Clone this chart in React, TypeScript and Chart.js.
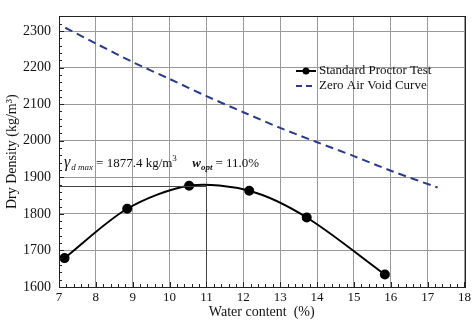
import React, { useEffect, useRef } from "react";
import { Chart, registerables } from "chart.js";

Chart.register(...registerables);

const proctorWater = [7.15, 8.85, 10.53, 12.16, 13.72, 15.84];
const proctorDensity = [1679, 1814, 1877, 1863, 1790, 1634];
const zavWater = [7.17, 8, 9, 10, 11, 12, 13, 14, 15, 16, 17.27];
const zavDensity = [2309, 2266, 2215, 2169, 2122, 2078, 2035, 1996, 1958, 1918, 1872];
const yTickValues = [1600, 1700, 1800, 1900, 2000, 2100, 2200, 2300];
const gammaMax = 1877.4;
const wOpt = 11.0;
const seriesNames = ["Standard Proctor Test", "Zero Air Void Curve"];

const SERIF = "'Liberation Serif', 'DejaVu Serif', serif";
const NAVY = "#2a3a8c";
const TEXT = "#111";

const overlayPlugin = {
  id: "overlay",
  afterDatasetsDraw(chart: any) {
    const { ctx, chartArea: a, scales } = chart;
    const xs = scales.x;
    const ys = scales.y;
    ctx.save();
    ctx.strokeStyle = "#444";
    ctx.lineWidth = 1;
    ctx.beginPath();
    const yg = Math.round(ys.getPixelForValue(gammaMax)) + 0.5;
    const xw = Math.round(xs.getPixelForValue(wOpt)) + 0.5;
    ctx.moveTo(a.left, yg);
    ctx.lineTo(xw, yg);
    ctx.moveTo(xw, a.bottom);
    ctx.lineTo(xw, yg);
    ctx.stroke();
    // minor ticks
    ctx.strokeStyle = "#222";
    ctx.beginPath();
    for (let v = 7; v <= 18.001; v += 0.2) {
      const px = Math.round(xs.getPixelForValue(v)) + 0.5;
      const major = Math.abs(v - Math.round(v)) < 0.01;
      ctx.moveTo(px, a.bottom);
      ctx.lineTo(px, a.bottom - (major ? 5 : 3));
    }
    for (let v = 1600; v <= 2340; v += 20) {
      const py = Math.round(ys.getPixelForValue(v)) + 0.5;
      const major = v % 100 === 0;
      ctx.moveTo(a.left, py);
      ctx.lineTo(a.left + (major ? 5 : 3), py);
    }
    ctx.stroke();
    ctx.strokeRect(Math.round(a.left) + 0.5, Math.round(a.top) + 0.5, Math.round(a.right - a.left), Math.round(a.bottom - a.top));
    // annotation text
    ctx.fillStyle = TEXT;
    ctx.textBaseline = "alphabetic";
    ctx.textAlign = "left";
    const base = 167;
    let x = 64;
    ctx.font = `italic 16px ${SERIF}`;
    ctx.fillText("γ", x, base);
    x += ctx.measureText("γ").width + 1;
    ctx.font = `italic 9px ${SERIF}`;
    ctx.fillText("d max", x, base + 3);
    x += ctx.measureText("d max").width + 3;
    ctx.font = `13px ${SERIF}`;
    const t1 = "= " + gammaMax.toFixed(1) + " kg/m";
    ctx.fillText(t1, x, base);
    x += ctx.measureText(t1).width;
    ctx.font = `9px ${SERIF}`;
    ctx.fillText("3", x, base - 6);
    x += 20;
    ctx.font = `bold italic 13px ${SERIF}`;
    ctx.fillText("w", x, base);
    x += ctx.measureText("w").width;
    ctx.font = `bold italic 9px ${SERIF}`;
    ctx.fillText("opt", x, base + 3);
    x += ctx.measureText("opt").width + 3;
    ctx.font = `13px ${SERIF}`;
    ctx.fillText("= " + wOpt.toFixed(1) + "%", x, base);
    // legend
    const lx = 296;
    const ly1 = 71;
    const ly2 = 86;
    ctx.strokeStyle = "#000";
    ctx.lineWidth = 2;
    ctx.beginPath();
    ctx.moveTo(lx, ly1);
    ctx.lineTo(lx + 20, ly1);
    ctx.stroke();
    ctx.fillStyle = "#000";
    ctx.beginPath();
    ctx.arc(lx + 10, ly1, 3.5, 0, Math.PI * 2);
    ctx.fill();
    ctx.strokeStyle = NAVY;
    ctx.setLineDash([6, 4]);
    ctx.beginPath();
    ctx.moveTo(lx, ly2);
    ctx.lineTo(lx + 20, ly2);
    ctx.stroke();
    ctx.setLineDash([]);
    ctx.fillStyle = TEXT;
    ctx.font = `13px ${SERIF}`;
    ctx.textBaseline = "middle";
    ctx.fillText(seriesNames[0], lx + 23, ly1);
    ctx.fillText(seriesNames[1], lx + 23, ly2);
    ctx.restore();
  },
};

export default function App() {
  const ref = useRef<HTMLCanvasElement>(null);
  useEffect(() => {
    document.body.style.margin = "0";
    const chart = new Chart(ref.current as HTMLCanvasElement, {
      type: "line",
      data: {
        datasets: [
          {
            label: seriesNames[0],
            data: proctorWater.map((w, i) => ({ x: w, y: proctorDensity[i] })),
            borderColor: "#000",
            backgroundColor: "#000",
            borderWidth: 2,
            pointRadius: 4,
            pointBackgroundColor: "#000",
            tension: 0.3,
          },
          {
            label: seriesNames[1],
            data: zavWater.map((w, i) => ({ x: w, y: zavDensity[i] })),
            borderColor: NAVY,
            borderWidth: 2,
            borderDash: [8, 5],
            pointRadius: 0,
            tension: 0.3,
          },
        ],
      },
      options: {
        animation: false,
        responsive: false,
        layout: { padding: { top: 3, right: 8, left: 0, bottom: 0 } },
        plugins: { legend: { display: false }, tooltip: { enabled: false } },
        scales: {
          x: {
            type: "linear",
            min: 7,
            max: 18,
            ticks: { stepSize: 1, color: TEXT, font: { family: SERIF, size: 13 }, padding: 3 },
            grid: { color: "#999", lineWidth: 1, drawTicks: false },
            border: { display: false },
            title: { display: true, text: "Water content  (%)", color: TEXT, font: { family: SERIF, size: 14 }, padding: { top: 1 } },
            afterFit(scale: any) {
              scale.height = 38;
            },
          },
          y: {
            type: "linear",
            min: 1600,
            max: 2340,
            afterBuildTicks(scale: any) {
              scale.ticks = yTickValues.map((v) => ({ value: v }));
            },
            ticks: {
              color: TEXT,
              font: { family: SERIF, size: 14 },
              padding: 8,
              autoSkip: false,
              callback: (v: any) => String(v),
            },
            grid: { color: "#999", lineWidth: 1, drawTicks: false },
            border: { display: false },
            title: { display: true, text: "Dry Density (kg/m³)", color: TEXT, font: { family: SERIF, size: 14 }, padding: { bottom: 2 } },
            afterFit(scale: any) {
              scale.width = 59;
            },
          },
        },
      },
      plugins: [overlayPlugin],
    });
    return () => chart.destroy();
  }, []);
  return (
    <div style={{ position: "absolute", left: 0, top: 0, width: 474, height: 325 }}>
      <canvas ref={ref} width={474} height={325} />
    </div>
  );
}
